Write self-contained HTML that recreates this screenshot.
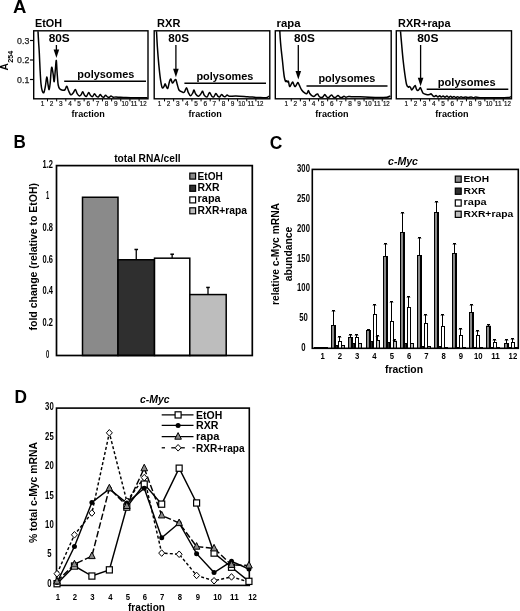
<!DOCTYPE html>
<html><head><meta charset="utf-8"><title>figure</title>
<style>html,body{margin:0;padding:0;background:#fff;} svg{display:block;will-change:transform;}</style>
</head><body>
<svg width="520" height="611" viewBox="0 0 520 611" font-family='"Liberation Sans", sans-serif'>
<text x="13.00" y="12.80" font-size="17.6" font-weight="bold" fill="#000" textLength="13.4" lengthAdjust="spacingAndGlyphs" >A</text>
<rect x="33.70" y="30.80" width="114.30" height="68.00" fill="none" stroke="#000" stroke-width="1.4" />
<text x="35.00" y="26.50" font-size="10.4" font-weight="bold" fill="#000" textLength="27.1" lengthAdjust="spacingAndGlyphs" >EtOH</text>
<rect x="154.20" y="30.80" width="115.60" height="68.00" fill="none" stroke="#000" stroke-width="1.4" />
<text x="157.10" y="26.50" font-size="10.4" font-weight="bold" fill="#000" textLength="23.3" lengthAdjust="spacingAndGlyphs" >RXR</text>
<rect x="275.30" y="30.80" width="115.90" height="68.00" fill="none" stroke="#000" stroke-width="1.4" />
<text x="276.60" y="26.50" font-size="10.4" font-weight="bold" fill="#000" textLength="24.0" lengthAdjust="spacingAndGlyphs" >rapa</text>
<rect x="396.30" y="30.80" width="115.20" height="68.00" fill="none" stroke="#000" stroke-width="1.4" />
<text x="398.10" y="26.50" font-size="10.4" font-weight="bold" fill="#000" textLength="52.4" lengthAdjust="spacingAndGlyphs" >RXR+rapa</text>
<line x1="30.00" y1="40.50" x2="33.70" y2="40.50" stroke="#000" stroke-width="1.2" />
<text x="29.30" y="43.50" font-size="8.6" font-weight="normal" fill="#222" text-anchor="end" textLength="12.2" lengthAdjust="spacingAndGlyphs" stroke="#222" stroke-width="0.25">0.3</text>
<line x1="30.00" y1="60.00" x2="33.70" y2="60.00" stroke="#000" stroke-width="1.2" />
<text x="29.30" y="63.00" font-size="8.6" font-weight="normal" fill="#222" text-anchor="end" textLength="12.2" lengthAdjust="spacingAndGlyphs" stroke="#222" stroke-width="0.25">0.2</text>
<line x1="30.00" y1="79.50" x2="33.70" y2="79.50" stroke="#000" stroke-width="1.2" />
<text x="29.30" y="82.50" font-size="8.6" font-weight="normal" fill="#222" text-anchor="end" textLength="12.2" lengthAdjust="spacingAndGlyphs" stroke="#222" stroke-width="0.25">0.1</text>
<text x="8.50" y="70.40" font-size="10.0" font-weight="bold" fill="#000" textLength="7.4" lengthAdjust="spacingAndGlyphs" transform="rotate(-90 8.50 70.40)" >A</text>
<text x="12.60" y="62.80" font-size="6.4" font-weight="bold" fill="#000" textLength="12.0" lengthAdjust="spacingAndGlyphs" transform="rotate(-90 12.60 62.80)" >254</text>
<path d="M38.00,31.20 C38.10,33.00 38.38,38.38 38.60,42.00 C38.82,45.62 39.05,48.22 39.30,52.90 C39.55,57.58 39.82,64.93 40.10,70.10 C40.38,75.27 40.65,80.45 41.00,83.90 C41.35,87.35 41.72,89.37 42.20,90.80 C42.68,92.23 43.37,93.27 43.90,92.50 C44.43,91.73 44.92,88.78 45.40,86.20 C45.88,83.62 46.35,77.20 46.80,77.00 C47.25,76.80 47.72,82.90 48.10,85.00 C48.48,87.10 48.75,89.97 49.10,89.60 C49.45,89.23 49.87,85.85 50.20,82.80 C50.53,79.75 50.82,73.88 51.10,71.30 C51.38,68.72 51.57,66.92 51.90,67.30 C52.23,67.68 52.72,71.22 53.10,73.60 C53.48,75.98 53.82,82.37 54.20,81.60 C54.58,80.83 55.05,72.53 55.40,69.00 C55.75,65.47 56.02,59.83 56.30,60.40 C56.58,60.97 56.78,68.30 57.10,72.40 C57.42,76.50 57.72,82.22 58.20,85.00 C58.68,87.78 59.23,88.23 60.00,89.10 C60.77,89.97 61.95,90.12 62.80,90.20 C63.65,90.28 64.43,90.27 65.10,89.60 C65.77,88.93 66.22,86.00 66.80,86.20 C67.38,86.40 67.93,89.37 68.60,90.80 C69.27,92.23 70.05,94.42 70.80,94.80 C71.55,95.18 72.33,93.97 73.10,93.10 C73.87,92.23 74.72,89.52 75.40,89.60 C76.08,89.68 76.53,92.55 77.20,93.60 C77.87,94.65 78.73,95.73 79.40,95.90 C80.07,96.07 80.65,95.28 81.20,94.60 C81.75,93.92 82.15,91.70 82.70,91.80 C83.25,91.90 83.87,94.43 84.50,95.20 C85.13,95.97 85.80,96.83 86.50,96.40 C87.20,95.97 88.02,92.73 88.70,92.60 C89.38,92.47 89.97,94.93 90.60,95.60 C91.23,96.27 91.85,96.90 92.50,96.60 C93.15,96.30 93.85,93.87 94.50,93.80 C95.15,93.73 95.77,95.67 96.40,96.20 C97.03,96.73 97.67,97.27 98.30,97.00 C98.93,96.73 99.58,94.67 100.20,94.60 C100.82,94.53 101.40,96.17 102.00,96.60 C102.60,97.03 103.20,97.42 103.80,97.20 C104.40,96.98 105.00,95.35 105.60,95.30 C106.20,95.25 106.80,96.55 107.40,96.90 C108.00,97.25 108.60,97.55 109.20,97.40 C109.80,97.25 110.37,96.03 111.00,96.00 C111.63,95.97 112.17,97.03 113.00,97.20 C113.83,97.37 114.83,96.98 116.00,97.00 C117.17,97.02 118.33,97.20 120.00,97.30 C121.67,97.40 123.50,97.52 126.00,97.60 C128.50,97.68 131.42,97.77 135.00,97.80 C138.58,97.83 145.42,97.80 147.50,97.80" fill="none" stroke="#000" stroke-width="1.5" stroke-linejoin="round"/>
<path d="M156.50,31.20 C156.65,33.88 157.02,41.73 157.40,47.30 C157.78,52.87 158.28,59.22 158.80,64.60 C159.32,69.98 159.93,75.75 160.50,79.60 C161.07,83.45 161.62,86.55 162.20,87.70 C162.78,88.85 163.52,87.17 164.00,86.50 C164.48,85.83 164.72,83.70 165.10,83.70 C165.48,83.70 165.85,85.73 166.30,86.50 C166.75,87.27 167.28,89.07 167.80,88.30 C168.32,87.53 168.88,83.45 169.40,81.90 C169.92,80.35 170.40,78.80 170.90,79.00 C171.40,79.20 171.83,82.80 172.40,83.10 C172.97,83.40 173.73,81.38 174.30,80.80 C174.87,80.22 175.32,79.03 175.80,79.60 C176.28,80.17 176.67,82.47 177.20,84.20 C177.73,85.93 178.23,88.75 179.00,90.00 C179.77,91.25 180.93,91.32 181.80,91.70 C182.67,92.08 183.42,92.97 184.20,92.30 C184.98,91.63 185.83,87.70 186.50,87.70 C187.17,87.70 187.53,90.95 188.20,92.30 C188.87,93.65 189.73,95.70 190.50,95.80 C191.27,95.90 192.22,93.87 192.80,92.90 C193.38,91.93 193.52,89.82 194.00,90.00 C194.48,90.18 194.93,92.95 195.70,94.00 C196.47,95.05 197.63,96.48 198.60,96.30 C199.57,96.12 200.83,93.75 201.50,92.90 C202.17,92.05 202.13,90.82 202.60,91.20 C203.07,91.58 203.53,94.25 204.30,95.20 C205.07,96.15 206.33,97.35 207.20,96.90 C208.07,96.45 208.73,92.62 209.50,92.50 C210.27,92.38 211.08,95.48 211.80,96.20 C212.52,96.92 213.12,97.23 213.80,96.80 C214.48,96.37 215.20,93.68 215.90,93.60 C216.60,93.52 217.35,95.77 218.00,96.30 C218.65,96.83 219.20,97.12 219.80,96.80 C220.40,96.48 220.97,94.47 221.60,94.40 C222.23,94.33 222.98,96.03 223.60,96.40 C224.22,96.77 224.70,96.83 225.30,96.60 C225.90,96.37 226.50,95.05 227.20,95.00 C227.90,94.95 228.03,96.13 229.50,96.30 C230.97,96.47 232.98,95.93 236.00,96.00 C239.02,96.07 243.98,96.47 247.60,96.70 C251.22,96.93 254.63,97.22 257.70,97.40 C260.77,97.58 264.12,98.00 266.00,97.80 C267.88,97.60 268.50,96.47 269.00,96.20" fill="none" stroke="#000" stroke-width="1.5" stroke-linejoin="round"/>
<path d="M279.80,30.90 C279.87,32.08 280.02,35.40 280.20,38.00 C280.38,40.60 280.65,43.83 280.90,46.50 C281.15,49.17 281.42,51.42 281.70,54.00 C281.98,56.58 282.32,59.33 282.60,62.00 C282.88,64.67 283.12,67.50 283.40,70.00 C283.68,72.50 283.95,75.12 284.30,77.00 C284.65,78.88 285.13,80.67 285.50,81.30 C285.87,81.93 286.20,80.70 286.50,80.80 C286.80,80.90 286.98,81.82 287.30,81.90 C287.62,81.98 288.02,80.53 288.40,81.30 C288.78,82.07 289.12,86.02 289.60,86.50 C290.08,86.98 290.78,84.97 291.30,84.20 C291.82,83.43 292.22,81.70 292.70,81.90 C293.18,82.10 293.77,84.63 294.20,85.40 C294.63,86.17 294.82,86.78 295.30,86.50 C295.78,86.22 296.65,84.37 297.10,83.70 C297.55,83.03 297.62,82.22 298.00,82.50 C298.38,82.78 298.78,84.15 299.40,85.40 C300.02,86.65 300.83,88.75 301.70,90.00 C302.57,91.25 303.73,92.32 304.60,92.90 C305.47,93.48 306.27,93.88 306.90,93.50 C307.53,93.12 307.92,90.60 308.40,90.60 C308.88,90.60 309.18,92.63 309.80,93.50 C310.42,94.37 311.33,95.33 312.10,95.80 C312.87,96.27 313.73,96.50 314.40,96.30 C315.07,96.10 315.57,94.98 316.10,94.60 C316.63,94.22 317.02,93.62 317.60,94.00 C318.18,94.38 318.78,96.35 319.60,96.90 C320.42,97.45 321.63,97.68 322.50,97.30 C323.37,96.92 324.08,94.65 324.80,94.60 C325.52,94.55 326.13,96.53 326.80,97.00 C327.47,97.47 328.03,97.73 328.80,97.40 C329.57,97.07 330.62,95.05 331.40,95.00 C332.18,94.95 332.82,96.68 333.50,97.10 C334.18,97.52 334.75,97.75 335.50,97.50 C336.25,97.25 337.25,95.65 338.00,95.60 C338.75,95.55 339.33,96.88 340.00,97.20 C340.67,97.52 341.33,97.67 342.00,97.50 C342.67,97.33 343.33,96.23 344.00,96.20 C344.67,96.17 345.25,97.25 346.00,97.30 C346.75,97.35 347.50,96.58 348.50,96.50 C349.50,96.42 350.08,96.75 352.00,96.80 C353.92,96.85 357.00,96.73 360.00,96.80 C363.00,96.87 366.67,97.10 370.00,97.20 C373.33,97.30 377.17,97.38 380.00,97.40 C382.83,97.42 385.27,97.53 387.00,97.30 C388.73,97.07 389.83,96.22 390.40,96.00" fill="none" stroke="#000" stroke-width="1.5" stroke-linejoin="round"/>
<path d="M400.50,31.20 C400.70,33.50 401.27,40.20 401.70,45.00 C402.13,49.80 402.58,55.20 403.10,60.00 C403.62,64.80 404.23,69.77 404.80,73.80 C405.37,77.83 405.92,81.98 406.50,84.20 C407.08,86.42 407.82,86.72 408.30,87.10 C408.78,87.48 409.02,86.40 409.40,86.50 C409.78,86.60 410.22,87.12 410.60,87.70 C410.98,88.28 411.22,90.00 411.70,90.00 C412.18,90.00 412.92,88.47 413.50,87.70 C414.08,86.93 414.73,85.22 415.20,85.40 C415.67,85.58 415.87,87.93 416.30,88.80 C416.73,89.67 417.27,90.60 417.80,90.60 C418.33,90.60 419.07,89.28 419.50,88.80 C419.93,88.32 420.02,87.40 420.40,87.70 C420.78,88.00 421.35,89.68 421.80,90.60 C422.25,91.52 422.36,92.57 423.10,93.20 C423.84,93.83 425.20,94.17 426.25,94.40 C427.30,94.63 428.61,94.70 429.40,94.60 C430.19,94.50 430.45,93.63 431.00,93.80 C431.55,93.97 432.15,95.13 432.70,95.60 C433.25,96.07 433.75,96.60 434.30,96.60 C434.85,96.60 435.40,95.53 436.00,95.60 C436.60,95.67 437.27,96.97 437.90,97.00 C438.52,97.03 439.17,95.78 439.75,95.80 C440.33,95.82 440.84,97.07 441.40,97.10 C441.96,97.13 442.50,95.98 443.10,96.00 C443.70,96.02 444.37,97.18 445.00,97.20 C445.63,97.22 446.28,96.08 446.90,96.10 C447.52,96.12 448.08,97.27 448.70,97.30 C449.32,97.33 450.00,96.28 450.60,96.30 C451.20,96.32 451.73,97.37 452.30,97.40 C452.87,97.43 453.42,96.48 454.00,96.50 C454.58,96.52 455.22,97.47 455.80,97.50 C456.38,97.53 456.90,96.70 457.50,96.70 C458.10,96.70 458.80,97.48 459.40,97.50 C460.00,97.52 460.50,96.78 461.10,96.80 C461.70,96.82 462.23,97.58 463.00,97.60 C463.77,97.62 464.87,96.90 465.70,96.90 C466.53,96.90 467.08,97.58 468.00,97.60 C468.92,97.62 470.28,96.98 471.20,97.00 C472.12,97.02 472.73,97.68 473.50,97.70 C474.27,97.72 474.72,97.10 475.80,97.10 C476.88,97.10 476.80,97.58 480.00,97.70 C483.20,97.82 490.33,97.82 495.00,97.80 C499.67,97.78 505.33,97.80 508.00,97.60 C510.67,97.40 510.50,96.77 511.00,96.60" fill="none" stroke="#000" stroke-width="1.5" stroke-linejoin="round"/>
<text x="48.70" y="41.80" font-size="10.6" font-weight="bold" fill="#000" textLength="21.1" lengthAdjust="spacingAndGlyphs" >80S</text>
<line x1="56.40" y1="45.00" x2="56.40" y2="52.00" stroke="#000" stroke-width="1.3" />
<path d="M53.60,49.50 L59.20,49.50 L56.40,58.00 Z" fill="#000"/>
<text x="168.30" y="41.80" font-size="10.6" font-weight="bold" fill="#000" textLength="20.8" lengthAdjust="spacingAndGlyphs" >80S</text>
<line x1="175.90" y1="45.00" x2="175.90" y2="71.30" stroke="#000" stroke-width="1.3" />
<path d="M173.10,68.80 L178.70,68.80 L175.90,77.30 Z" fill="#000"/>
<text x="293.90" y="41.80" font-size="10.6" font-weight="bold" fill="#000" textLength="21.0" lengthAdjust="spacingAndGlyphs" >80S</text>
<line x1="298.30" y1="45.00" x2="298.30" y2="73.60" stroke="#000" stroke-width="1.3" />
<path d="M295.50,71.10 L301.10,71.10 L298.30,79.60 Z" fill="#000"/>
<text x="417.20" y="41.80" font-size="10.6" font-weight="bold" fill="#000" textLength="21.400000000000002" lengthAdjust="spacingAndGlyphs" >80S</text>
<line x1="420.60" y1="45.00" x2="420.60" y2="80.30" stroke="#000" stroke-width="1.3" />
<path d="M417.80,77.80 L423.40,77.80 L420.60,86.30 Z" fill="#000"/>
<text x="77.30" y="78.20" font-size="10.7" font-weight="bold" fill="#000" textLength="57.099999999999994" lengthAdjust="spacingAndGlyphs" >polysomes</text>
<line x1="64.20" y1="81.30" x2="146.00" y2="81.30" stroke="#000" stroke-width="1.5" />
<text x="196.40" y="80.20" font-size="10.7" font-weight="bold" fill="#000" textLength="57.0" lengthAdjust="spacingAndGlyphs" >polysomes</text>
<line x1="184.40" y1="83.30" x2="266.00" y2="83.30" stroke="#000" stroke-width="1.5" />
<text x="318.40" y="82.00" font-size="10.7" font-weight="bold" fill="#000" textLength="57.0" lengthAdjust="spacingAndGlyphs" >polysomes</text>
<line x1="306.50" y1="86.00" x2="387.50" y2="86.00" stroke="#000" stroke-width="1.5" />
<text x="437.80" y="86.00" font-size="10.7" font-weight="bold" fill="#000" textLength="57.9" lengthAdjust="spacingAndGlyphs" >polysomes</text>
<line x1="426.70" y1="89.30" x2="508.30" y2="89.30" stroke="#000" stroke-width="1.5" />
<text x="42.50" y="105.60" font-size="7.0" font-weight="normal" fill="#111" text-anchor="middle" textLength="3.6" lengthAdjust="spacingAndGlyphs" stroke="#111" stroke-width="0.2">1</text>
<line x1="47.50" y1="98.80" x2="47.50" y2="101.40" stroke="#000" stroke-width="1.0" />
<text x="51.66" y="105.60" font-size="7.0" font-weight="normal" fill="#111" text-anchor="middle" textLength="3.6" lengthAdjust="spacingAndGlyphs" stroke="#111" stroke-width="0.2">2</text>
<line x1="56.66" y1="98.80" x2="56.66" y2="101.40" stroke="#000" stroke-width="1.0" />
<text x="60.82" y="105.60" font-size="7.0" font-weight="normal" fill="#111" text-anchor="middle" textLength="3.6" lengthAdjust="spacingAndGlyphs" stroke="#111" stroke-width="0.2">3</text>
<line x1="65.82" y1="98.80" x2="65.82" y2="101.40" stroke="#000" stroke-width="1.0" />
<text x="69.98" y="105.60" font-size="7.0" font-weight="normal" fill="#111" text-anchor="middle" textLength="3.6" lengthAdjust="spacingAndGlyphs" stroke="#111" stroke-width="0.2">4</text>
<line x1="74.98" y1="98.80" x2="74.98" y2="101.40" stroke="#000" stroke-width="1.0" />
<text x="79.14" y="105.60" font-size="7.0" font-weight="normal" fill="#111" text-anchor="middle" textLength="3.6" lengthAdjust="spacingAndGlyphs" stroke="#111" stroke-width="0.2">5</text>
<line x1="84.14" y1="98.80" x2="84.14" y2="101.40" stroke="#000" stroke-width="1.0" />
<text x="88.30" y="105.60" font-size="7.0" font-weight="normal" fill="#111" text-anchor="middle" textLength="3.6" lengthAdjust="spacingAndGlyphs" stroke="#111" stroke-width="0.2">6</text>
<line x1="93.30" y1="98.80" x2="93.30" y2="101.40" stroke="#000" stroke-width="1.0" />
<text x="97.46" y="105.60" font-size="7.0" font-weight="normal" fill="#111" text-anchor="middle" textLength="3.6" lengthAdjust="spacingAndGlyphs" stroke="#111" stroke-width="0.2">7</text>
<line x1="102.46" y1="98.80" x2="102.46" y2="101.40" stroke="#000" stroke-width="1.0" />
<text x="106.62" y="105.60" font-size="7.0" font-weight="normal" fill="#111" text-anchor="middle" textLength="3.6" lengthAdjust="spacingAndGlyphs" stroke="#111" stroke-width="0.2">8</text>
<line x1="111.62" y1="98.80" x2="111.62" y2="101.40" stroke="#000" stroke-width="1.0" />
<text x="115.78" y="105.60" font-size="7.0" font-weight="normal" fill="#111" text-anchor="middle" textLength="3.6" lengthAdjust="spacingAndGlyphs" stroke="#111" stroke-width="0.2">9</text>
<line x1="120.78" y1="98.80" x2="120.78" y2="101.40" stroke="#000" stroke-width="1.0" />
<text x="124.94" y="105.60" font-size="7.0" font-weight="normal" fill="#111" text-anchor="middle" textLength="6.8" lengthAdjust="spacingAndGlyphs" stroke="#111" stroke-width="0.2">10</text>
<line x1="129.94" y1="98.80" x2="129.94" y2="101.40" stroke="#000" stroke-width="1.0" />
<text x="134.10" y="105.60" font-size="7.0" font-weight="normal" fill="#111" text-anchor="middle" textLength="6.8" lengthAdjust="spacingAndGlyphs" stroke="#111" stroke-width="0.2">11</text>
<line x1="139.10" y1="98.80" x2="139.10" y2="101.40" stroke="#000" stroke-width="1.0" />
<text x="143.26" y="105.60" font-size="7.0" font-weight="normal" fill="#111" text-anchor="middle" textLength="6.8" lengthAdjust="spacingAndGlyphs" stroke="#111" stroke-width="0.2">12</text>
<text x="88.20" y="116.80" font-size="9.3" font-weight="bold" fill="#000" text-anchor="middle" textLength="33.2" lengthAdjust="spacingAndGlyphs" >fraction</text>
<text x="159.50" y="105.60" font-size="7.0" font-weight="normal" fill="#111" text-anchor="middle" textLength="3.6" lengthAdjust="spacingAndGlyphs" stroke="#111" stroke-width="0.2">1</text>
<line x1="164.50" y1="98.80" x2="164.50" y2="101.40" stroke="#000" stroke-width="1.0" />
<text x="168.64" y="105.60" font-size="7.0" font-weight="normal" fill="#111" text-anchor="middle" textLength="3.6" lengthAdjust="spacingAndGlyphs" stroke="#111" stroke-width="0.2">2</text>
<line x1="173.64" y1="98.80" x2="173.64" y2="101.40" stroke="#000" stroke-width="1.0" />
<text x="177.78" y="105.60" font-size="7.0" font-weight="normal" fill="#111" text-anchor="middle" textLength="3.6" lengthAdjust="spacingAndGlyphs" stroke="#111" stroke-width="0.2">3</text>
<line x1="182.78" y1="98.80" x2="182.78" y2="101.40" stroke="#000" stroke-width="1.0" />
<text x="186.92" y="105.60" font-size="7.0" font-weight="normal" fill="#111" text-anchor="middle" textLength="3.6" lengthAdjust="spacingAndGlyphs" stroke="#111" stroke-width="0.2">4</text>
<line x1="191.92" y1="98.80" x2="191.92" y2="101.40" stroke="#000" stroke-width="1.0" />
<text x="196.06" y="105.60" font-size="7.0" font-weight="normal" fill="#111" text-anchor="middle" textLength="3.6" lengthAdjust="spacingAndGlyphs" stroke="#111" stroke-width="0.2">5</text>
<line x1="201.06" y1="98.80" x2="201.06" y2="101.40" stroke="#000" stroke-width="1.0" />
<text x="205.20" y="105.60" font-size="7.0" font-weight="normal" fill="#111" text-anchor="middle" textLength="3.6" lengthAdjust="spacingAndGlyphs" stroke="#111" stroke-width="0.2">6</text>
<line x1="210.20" y1="98.80" x2="210.20" y2="101.40" stroke="#000" stroke-width="1.0" />
<text x="214.34" y="105.60" font-size="7.0" font-weight="normal" fill="#111" text-anchor="middle" textLength="3.6" lengthAdjust="spacingAndGlyphs" stroke="#111" stroke-width="0.2">7</text>
<line x1="219.34" y1="98.80" x2="219.34" y2="101.40" stroke="#000" stroke-width="1.0" />
<text x="223.48" y="105.60" font-size="7.0" font-weight="normal" fill="#111" text-anchor="middle" textLength="3.6" lengthAdjust="spacingAndGlyphs" stroke="#111" stroke-width="0.2">8</text>
<line x1="228.48" y1="98.80" x2="228.48" y2="101.40" stroke="#000" stroke-width="1.0" />
<text x="232.62" y="105.60" font-size="7.0" font-weight="normal" fill="#111" text-anchor="middle" textLength="3.6" lengthAdjust="spacingAndGlyphs" stroke="#111" stroke-width="0.2">9</text>
<line x1="237.62" y1="98.80" x2="237.62" y2="101.40" stroke="#000" stroke-width="1.0" />
<text x="241.76" y="105.60" font-size="7.0" font-weight="normal" fill="#111" text-anchor="middle" textLength="6.8" lengthAdjust="spacingAndGlyphs" stroke="#111" stroke-width="0.2">10</text>
<line x1="246.76" y1="98.80" x2="246.76" y2="101.40" stroke="#000" stroke-width="1.0" />
<text x="250.90" y="105.60" font-size="7.0" font-weight="normal" fill="#111" text-anchor="middle" textLength="6.8" lengthAdjust="spacingAndGlyphs" stroke="#111" stroke-width="0.2">11</text>
<line x1="255.90" y1="98.80" x2="255.90" y2="101.40" stroke="#000" stroke-width="1.0" />
<text x="260.04" y="105.60" font-size="7.0" font-weight="normal" fill="#111" text-anchor="middle" textLength="6.8" lengthAdjust="spacingAndGlyphs" stroke="#111" stroke-width="0.2">12</text>
<text x="205.20" y="116.80" font-size="9.3" font-weight="bold" fill="#000" text-anchor="middle" textLength="33.2" lengthAdjust="spacingAndGlyphs" >fraction</text>
<text x="286.25" y="105.60" font-size="7.0" font-weight="normal" fill="#111" text-anchor="middle" textLength="3.6" lengthAdjust="spacingAndGlyphs" stroke="#111" stroke-width="0.2">1</text>
<line x1="291.25" y1="98.80" x2="291.25" y2="101.40" stroke="#000" stroke-width="1.0" />
<text x="295.35" y="105.60" font-size="7.0" font-weight="normal" fill="#111" text-anchor="middle" textLength="3.6" lengthAdjust="spacingAndGlyphs" stroke="#111" stroke-width="0.2">2</text>
<line x1="300.35" y1="98.80" x2="300.35" y2="101.40" stroke="#000" stroke-width="1.0" />
<text x="304.45" y="105.60" font-size="7.0" font-weight="normal" fill="#111" text-anchor="middle" textLength="3.6" lengthAdjust="spacingAndGlyphs" stroke="#111" stroke-width="0.2">3</text>
<line x1="309.45" y1="98.80" x2="309.45" y2="101.40" stroke="#000" stroke-width="1.0" />
<text x="313.55" y="105.60" font-size="7.0" font-weight="normal" fill="#111" text-anchor="middle" textLength="3.6" lengthAdjust="spacingAndGlyphs" stroke="#111" stroke-width="0.2">4</text>
<line x1="318.55" y1="98.80" x2="318.55" y2="101.40" stroke="#000" stroke-width="1.0" />
<text x="322.65" y="105.60" font-size="7.0" font-weight="normal" fill="#111" text-anchor="middle" textLength="3.6" lengthAdjust="spacingAndGlyphs" stroke="#111" stroke-width="0.2">5</text>
<line x1="327.65" y1="98.80" x2="327.65" y2="101.40" stroke="#000" stroke-width="1.0" />
<text x="331.75" y="105.60" font-size="7.0" font-weight="normal" fill="#111" text-anchor="middle" textLength="3.6" lengthAdjust="spacingAndGlyphs" stroke="#111" stroke-width="0.2">6</text>
<line x1="336.75" y1="98.80" x2="336.75" y2="101.40" stroke="#000" stroke-width="1.0" />
<text x="340.85" y="105.60" font-size="7.0" font-weight="normal" fill="#111" text-anchor="middle" textLength="3.6" lengthAdjust="spacingAndGlyphs" stroke="#111" stroke-width="0.2">7</text>
<line x1="345.85" y1="98.80" x2="345.85" y2="101.40" stroke="#000" stroke-width="1.0" />
<text x="349.95" y="105.60" font-size="7.0" font-weight="normal" fill="#111" text-anchor="middle" textLength="3.6" lengthAdjust="spacingAndGlyphs" stroke="#111" stroke-width="0.2">8</text>
<line x1="354.95" y1="98.80" x2="354.95" y2="101.40" stroke="#000" stroke-width="1.0" />
<text x="359.05" y="105.60" font-size="7.0" font-weight="normal" fill="#111" text-anchor="middle" textLength="3.6" lengthAdjust="spacingAndGlyphs" stroke="#111" stroke-width="0.2">9</text>
<line x1="364.05" y1="98.80" x2="364.05" y2="101.40" stroke="#000" stroke-width="1.0" />
<text x="368.15" y="105.60" font-size="7.0" font-weight="normal" fill="#111" text-anchor="middle" textLength="6.8" lengthAdjust="spacingAndGlyphs" stroke="#111" stroke-width="0.2">10</text>
<line x1="373.15" y1="98.80" x2="373.15" y2="101.40" stroke="#000" stroke-width="1.0" />
<text x="377.25" y="105.60" font-size="7.0" font-weight="normal" fill="#111" text-anchor="middle" textLength="6.8" lengthAdjust="spacingAndGlyphs" stroke="#111" stroke-width="0.2">11</text>
<line x1="382.25" y1="98.80" x2="382.25" y2="101.40" stroke="#000" stroke-width="1.0" />
<text x="386.35" y="105.60" font-size="7.0" font-weight="normal" fill="#111" text-anchor="middle" textLength="6.8" lengthAdjust="spacingAndGlyphs" stroke="#111" stroke-width="0.2">12</text>
<text x="331.95" y="116.80" font-size="9.3" font-weight="bold" fill="#000" text-anchor="middle" textLength="33.2" lengthAdjust="spacingAndGlyphs" >fraction</text>
<text x="406.25" y="105.60" font-size="7.0" font-weight="normal" fill="#111" text-anchor="middle" textLength="3.6" lengthAdjust="spacingAndGlyphs" stroke="#111" stroke-width="0.2">1</text>
<line x1="411.25" y1="98.80" x2="411.25" y2="101.40" stroke="#000" stroke-width="1.0" />
<text x="415.45" y="105.60" font-size="7.0" font-weight="normal" fill="#111" text-anchor="middle" textLength="3.6" lengthAdjust="spacingAndGlyphs" stroke="#111" stroke-width="0.2">2</text>
<line x1="420.45" y1="98.80" x2="420.45" y2="101.40" stroke="#000" stroke-width="1.0" />
<text x="424.65" y="105.60" font-size="7.0" font-weight="normal" fill="#111" text-anchor="middle" textLength="3.6" lengthAdjust="spacingAndGlyphs" stroke="#111" stroke-width="0.2">3</text>
<line x1="429.65" y1="98.80" x2="429.65" y2="101.40" stroke="#000" stroke-width="1.0" />
<text x="433.85" y="105.60" font-size="7.0" font-weight="normal" fill="#111" text-anchor="middle" textLength="3.6" lengthAdjust="spacingAndGlyphs" stroke="#111" stroke-width="0.2">4</text>
<line x1="438.85" y1="98.80" x2="438.85" y2="101.40" stroke="#000" stroke-width="1.0" />
<text x="443.05" y="105.60" font-size="7.0" font-weight="normal" fill="#111" text-anchor="middle" textLength="3.6" lengthAdjust="spacingAndGlyphs" stroke="#111" stroke-width="0.2">5</text>
<line x1="448.05" y1="98.80" x2="448.05" y2="101.40" stroke="#000" stroke-width="1.0" />
<text x="452.25" y="105.60" font-size="7.0" font-weight="normal" fill="#111" text-anchor="middle" textLength="3.6" lengthAdjust="spacingAndGlyphs" stroke="#111" stroke-width="0.2">6</text>
<line x1="457.25" y1="98.80" x2="457.25" y2="101.40" stroke="#000" stroke-width="1.0" />
<text x="461.45" y="105.60" font-size="7.0" font-weight="normal" fill="#111" text-anchor="middle" textLength="3.6" lengthAdjust="spacingAndGlyphs" stroke="#111" stroke-width="0.2">7</text>
<line x1="466.45" y1="98.80" x2="466.45" y2="101.40" stroke="#000" stroke-width="1.0" />
<text x="470.65" y="105.60" font-size="7.0" font-weight="normal" fill="#111" text-anchor="middle" textLength="3.6" lengthAdjust="spacingAndGlyphs" stroke="#111" stroke-width="0.2">8</text>
<line x1="475.65" y1="98.80" x2="475.65" y2="101.40" stroke="#000" stroke-width="1.0" />
<text x="479.85" y="105.60" font-size="7.0" font-weight="normal" fill="#111" text-anchor="middle" textLength="3.6" lengthAdjust="spacingAndGlyphs" stroke="#111" stroke-width="0.2">9</text>
<line x1="484.85" y1="98.80" x2="484.85" y2="101.40" stroke="#000" stroke-width="1.0" />
<text x="489.05" y="105.60" font-size="7.0" font-weight="normal" fill="#111" text-anchor="middle" textLength="6.8" lengthAdjust="spacingAndGlyphs" stroke="#111" stroke-width="0.2">10</text>
<line x1="494.05" y1="98.80" x2="494.05" y2="101.40" stroke="#000" stroke-width="1.0" />
<text x="498.25" y="105.60" font-size="7.0" font-weight="normal" fill="#111" text-anchor="middle" textLength="6.8" lengthAdjust="spacingAndGlyphs" stroke="#111" stroke-width="0.2">11</text>
<line x1="503.25" y1="98.80" x2="503.25" y2="101.40" stroke="#000" stroke-width="1.0" />
<text x="507.45" y="105.60" font-size="7.0" font-weight="normal" fill="#111" text-anchor="middle" textLength="6.8" lengthAdjust="spacingAndGlyphs" stroke="#111" stroke-width="0.2">12</text>
<text x="451.95" y="116.80" font-size="9.3" font-weight="bold" fill="#000" text-anchor="middle" textLength="33.2" lengthAdjust="spacingAndGlyphs" >fraction</text>
<text x="13.40" y="148.40" font-size="17.8" font-weight="bold" fill="#000" textLength="12.3" lengthAdjust="spacingAndGlyphs" >B</text>
<text x="114.20" y="161.90" font-size="11.0" font-weight="bold" fill="#000" textLength="66.4" lengthAdjust="spacingAndGlyphs" >total RNA/cell</text>
<text x="47.70" y="167.80" font-size="10.2" font-weight="bold" fill="#000" text-anchor="middle" textLength="10.4" lengthAdjust="spacingAndGlyphs" >1.2</text>
<text x="47.70" y="199.45" font-size="10.2" font-weight="bold" fill="#000" text-anchor="middle" textLength="3.2" lengthAdjust="spacingAndGlyphs" >1</text>
<text x="47.70" y="231.10" font-size="10.2" font-weight="bold" fill="#000" text-anchor="middle" textLength="10.4" lengthAdjust="spacingAndGlyphs" >0.8</text>
<text x="47.70" y="262.75" font-size="10.2" font-weight="bold" fill="#000" text-anchor="middle" textLength="10.4" lengthAdjust="spacingAndGlyphs" >0.6</text>
<text x="47.70" y="294.40" font-size="10.2" font-weight="bold" fill="#000" text-anchor="middle" textLength="10.4" lengthAdjust="spacingAndGlyphs" >0.4</text>
<text x="47.70" y="326.05" font-size="10.2" font-weight="bold" fill="#000" text-anchor="middle" textLength="10.4" lengthAdjust="spacingAndGlyphs" >0.2</text>
<text x="47.70" y="357.70" font-size="10.2" font-weight="bold" fill="#000" text-anchor="middle" textLength="3.2" lengthAdjust="spacingAndGlyphs" >0</text>
<rect x="82.50" y="197.25" width="35.50" height="158.25" fill="#8a8a8a" stroke="#000" stroke-width="1.5" />
<line x1="136.25" y1="259.76" x2="136.25" y2="249.47" stroke="#000" stroke-width="1.3" />
<line x1="134.45" y1="249.47" x2="138.05" y2="249.47" stroke="#000" stroke-width="1.5" />
<rect x="118.00" y="259.76" width="36.50" height="95.74" fill="#2f2f2f" stroke="#000" stroke-width="1.5" />
<line x1="172.15" y1="258.18" x2="172.15" y2="254.22" stroke="#000" stroke-width="1.3" />
<line x1="170.35" y1="254.22" x2="173.95" y2="254.22" stroke="#000" stroke-width="1.5" />
<rect x="154.50" y="258.18" width="35.30" height="97.32" fill="#ffffff" stroke="#000" stroke-width="1.5" />
<line x1="208.00" y1="294.57" x2="208.00" y2="287.45" stroke="#000" stroke-width="1.3" />
<line x1="206.20" y1="287.45" x2="209.80" y2="287.45" stroke="#000" stroke-width="1.5" />
<rect x="189.80" y="294.57" width="36.40" height="60.93" fill="#bdbdbd" stroke="#000" stroke-width="1.5" />
<rect x="56.50" y="165.60" width="195.80" height="189.90" fill="none" stroke="#000" stroke-width="1.7" />
<rect x="189.80" y="173.10" width="5.80" height="6.00" fill="#8a8a8a" stroke="#000" stroke-width="1.2" />
<text x="197.60" y="179.70" font-size="10.4" font-weight="bold" fill="#000" textLength="25.2" lengthAdjust="spacingAndGlyphs" >EtOH</text>
<rect x="189.80" y="185.30" width="5.80" height="6.00" fill="#2f2f2f" stroke="#000" stroke-width="1.2" />
<text x="197.60" y="191.00" font-size="10.4" font-weight="bold" fill="#000" textLength="22.0" lengthAdjust="spacingAndGlyphs" >RXR</text>
<rect x="189.80" y="196.90" width="5.80" height="6.00" fill="#ffffff" stroke="#000" stroke-width="1.2" />
<text x="197.60" y="202.40" font-size="10.4" font-weight="bold" fill="#000" textLength="23.0" lengthAdjust="spacingAndGlyphs" >rapa</text>
<rect x="189.80" y="207.80" width="5.80" height="6.00" fill="#bdbdbd" stroke="#000" stroke-width="1.2" />
<text x="197.60" y="213.70" font-size="10.4" font-weight="bold" fill="#000" textLength="49.5" lengthAdjust="spacingAndGlyphs" >RXR+rapa</text>
<text x="37.00" y="256.70" font-size="10.4" font-weight="bold" fill="#000" text-anchor="middle" textLength="147.5" lengthAdjust="spacingAndGlyphs" transform="rotate(-90 37.00 256.70)" >fold change (relative to EtOH)</text>
<text x="269.80" y="148.80" font-size="17.8" font-weight="bold" fill="#000" textLength="12.6" lengthAdjust="spacingAndGlyphs" >C</text>
<text x="388.00" y="164.80" font-size="10.4" font-weight="bold" fill="#000" textLength="30.0" lengthAdjust="spacingAndGlyphs" font-style="italic" >c-Myc</text>
<text x="303.50" y="172.10" font-size="10.2" font-weight="bold" fill="#000" text-anchor="middle" textLength="12.8" lengthAdjust="spacingAndGlyphs" >300</text>
<text x="303.50" y="201.92" font-size="10.2" font-weight="bold" fill="#000" text-anchor="middle" textLength="12.8" lengthAdjust="spacingAndGlyphs" >250</text>
<text x="303.50" y="231.73" font-size="10.2" font-weight="bold" fill="#000" text-anchor="middle" textLength="12.8" lengthAdjust="spacingAndGlyphs" >200</text>
<text x="303.50" y="261.55" font-size="10.2" font-weight="bold" fill="#000" text-anchor="middle" textLength="12.8" lengthAdjust="spacingAndGlyphs" >150</text>
<text x="303.50" y="291.37" font-size="10.2" font-weight="bold" fill="#000" text-anchor="middle" textLength="12.8" lengthAdjust="spacingAndGlyphs" >100</text>
<text x="303.50" y="321.18" font-size="10.2" font-weight="bold" fill="#000" text-anchor="middle" textLength="8.6" lengthAdjust="spacingAndGlyphs" >50</text>
<text x="303.50" y="351.00" font-size="10.2" font-weight="bold" fill="#000" text-anchor="middle" textLength="4.3" lengthAdjust="spacingAndGlyphs" >0</text>
<rect x="314" y="347" width="5" height="1" fill="#000"/>
<rect x="318" y="347" width="3" height="1" fill="#000"/>
<rect x="321" y="347" width="4" height="1" fill="#000"/>
<rect x="324" y="347" width="4" height="1" fill="#000"/>
<rect x="333" y="310" width="1" height="15" fill="#000"/>
<rect x="332" y="310" width="3" height="1" fill="#000"/>
<rect x="331.6" y="311" width="3.8" height="0.8" fill="#000" opacity="0.6"/>
<rect x="331" y="325" width="5" height="23" fill="#000"/>
<rect x="332" y="326" width="2" height="22" fill="#8a8a8a"/>
<rect x="335" y="345" width="3" height="3" fill="#000"/>
<rect x="336" y="346" width="1" height="2" fill="#2f2f2f"/>
<rect x="339" y="336" width="1" height="5" fill="#000"/>
<rect x="338" y="336" width="3" height="1" fill="#000"/>
<rect x="337.6" y="337" width="3.8" height="0.8" fill="#000" opacity="0.6"/>
<rect x="338" y="341" width="4" height="7" fill="#000"/>
<rect x="339" y="342" width="2" height="6" fill="#ffffff"/>
<rect x="341" y="345" width="4" height="3" fill="#000"/>
<rect x="342" y="346" width="2" height="2" fill="#bdbdbd"/>
<rect x="350" y="334" width="1" height="3" fill="#000"/>
<rect x="349" y="334" width="3" height="1" fill="#000"/>
<rect x="348.6" y="335" width="3.8" height="0.8" fill="#000" opacity="0.6"/>
<rect x="348" y="337" width="5" height="11" fill="#000"/>
<rect x="349" y="338" width="2" height="10" fill="#8a8a8a"/>
<rect x="352" y="343" width="3" height="5" fill="#000"/>
<rect x="353" y="344" width="1" height="4" fill="#2f2f2f"/>
<rect x="356" y="334" width="1" height="3" fill="#000"/>
<rect x="355" y="334" width="3" height="1" fill="#000"/>
<rect x="354.6" y="335" width="3.8" height="0.8" fill="#000" opacity="0.6"/>
<rect x="355" y="337" width="4" height="11" fill="#000"/>
<rect x="356" y="338" width="2" height="10" fill="#ffffff"/>
<rect x="358" y="343" width="4" height="5" fill="#000"/>
<rect x="359" y="344" width="2" height="4" fill="#bdbdbd"/>
<rect x="368" y="329" width="1" height="1" fill="#000"/>
<rect x="367" y="329" width="3" height="1" fill="#000"/>
<rect x="366.6" y="330" width="3.8" height="0.8" fill="#000" opacity="0.6"/>
<rect x="366" y="330" width="5" height="18" fill="#000"/>
<rect x="367" y="331" width="2" height="17" fill="#8a8a8a"/>
<rect x="370" y="341" width="3" height="7" fill="#000"/>
<rect x="371" y="342" width="1" height="6" fill="#2f2f2f"/>
<rect x="374" y="304" width="1" height="10" fill="#000"/>
<rect x="373" y="304" width="3" height="1" fill="#000"/>
<rect x="372.6" y="305" width="3.8" height="0.8" fill="#000" opacity="0.6"/>
<rect x="373" y="314" width="4" height="34" fill="#000"/>
<rect x="374" y="315" width="2" height="33" fill="#ffffff"/>
<rect x="377" y="335" width="1" height="5" fill="#000"/>
<rect x="376" y="335" width="3" height="1" fill="#000"/>
<rect x="375.6" y="336" width="3.8" height="0.8" fill="#000" opacity="0.6"/>
<rect x="376" y="340" width="4" height="8" fill="#000"/>
<rect x="377" y="341" width="2" height="7" fill="#bdbdbd"/>
<rect x="385" y="243" width="1" height="13" fill="#000"/>
<rect x="384" y="243" width="3" height="1" fill="#000"/>
<rect x="383.6" y="244" width="3.8" height="0.8" fill="#000" opacity="0.6"/>
<rect x="383" y="256" width="5" height="92" fill="#000"/>
<rect x="384" y="257" width="2" height="91" fill="#8a8a8a"/>
<rect x="387" y="342" width="3" height="6" fill="#000"/>
<rect x="388" y="343" width="1" height="5" fill="#2f2f2f"/>
<rect x="391" y="301" width="1" height="20" fill="#000"/>
<rect x="390" y="301" width="3" height="1" fill="#000"/>
<rect x="389.6" y="302" width="3.8" height="0.8" fill="#000" opacity="0.6"/>
<rect x="390" y="321" width="4" height="27" fill="#000"/>
<rect x="391" y="322" width="2" height="26" fill="#ffffff"/>
<rect x="394" y="339" width="1" height="2" fill="#000"/>
<rect x="393" y="339" width="3" height="1" fill="#000"/>
<rect x="392.6" y="340" width="3.8" height="0.8" fill="#000" opacity="0.6"/>
<rect x="393" y="341" width="4" height="7" fill="#000"/>
<rect x="394" y="342" width="2" height="6" fill="#bdbdbd"/>
<rect x="402" y="212" width="1" height="20" fill="#000"/>
<rect x="401" y="212" width="3" height="1" fill="#000"/>
<rect x="400.6" y="213" width="3.8" height="0.8" fill="#000" opacity="0.6"/>
<rect x="400" y="232" width="5" height="116" fill="#000"/>
<rect x="401" y="233" width="2" height="115" fill="#8a8a8a"/>
<rect x="404" y="343" width="3" height="5" fill="#000"/>
<rect x="405" y="344" width="1" height="4" fill="#2f2f2f"/>
<rect x="408" y="296" width="1" height="11" fill="#000"/>
<rect x="407" y="296" width="3" height="1" fill="#000"/>
<rect x="406.6" y="297" width="3.8" height="0.8" fill="#000" opacity="0.6"/>
<rect x="407" y="307" width="4" height="41" fill="#000"/>
<rect x="408" y="308" width="2" height="40" fill="#ffffff"/>
<rect x="410" y="343" width="4" height="5" fill="#000"/>
<rect x="411" y="344" width="2" height="4" fill="#bdbdbd"/>
<rect x="419" y="237" width="1" height="18" fill="#000"/>
<rect x="418" y="237" width="3" height="1" fill="#000"/>
<rect x="417.6" y="238" width="3.8" height="0.8" fill="#000" opacity="0.6"/>
<rect x="417" y="255" width="5" height="93" fill="#000"/>
<rect x="418" y="256" width="2" height="92" fill="#8a8a8a"/>
<rect x="421" y="346" width="3" height="2" fill="#000"/>
<rect x="422" y="347" width="1" height="1" fill="#2f2f2f"/>
<rect x="425" y="314" width="1" height="9" fill="#000"/>
<rect x="424" y="314" width="3" height="1" fill="#000"/>
<rect x="423.6" y="315" width="3.8" height="0.8" fill="#000" opacity="0.6"/>
<rect x="424" y="323" width="4" height="25" fill="#000"/>
<rect x="425" y="324" width="2" height="24" fill="#ffffff"/>
<rect x="427" y="346" width="4" height="2" fill="#000"/>
<rect x="428" y="347" width="2" height="1" fill="#bdbdbd"/>
<rect x="436" y="201" width="1" height="11" fill="#000"/>
<rect x="435" y="201" width="3" height="1" fill="#000"/>
<rect x="434.6" y="202" width="3.8" height="0.8" fill="#000" opacity="0.6"/>
<rect x="434" y="212" width="5" height="136" fill="#000"/>
<rect x="435" y="213" width="2" height="135" fill="#8a8a8a"/>
<rect x="438" y="346" width="3" height="2" fill="#000"/>
<rect x="439" y="347" width="1" height="1" fill="#2f2f2f"/>
<rect x="442" y="314" width="1" height="12" fill="#000"/>
<rect x="441" y="314" width="3" height="1" fill="#000"/>
<rect x="440.6" y="315" width="3.8" height="0.8" fill="#000" opacity="0.6"/>
<rect x="441" y="326" width="4" height="22" fill="#000"/>
<rect x="442" y="327" width="2" height="21" fill="#ffffff"/>
<rect x="444" y="347" width="4" height="1" fill="#000"/>
<rect x="454" y="243" width="1" height="10" fill="#000"/>
<rect x="453" y="243" width="3" height="1" fill="#000"/>
<rect x="452.6" y="244" width="3.8" height="0.8" fill="#000" opacity="0.6"/>
<rect x="452" y="253" width="5" height="95" fill="#000"/>
<rect x="453" y="254" width="2" height="94" fill="#8a8a8a"/>
<rect x="456" y="347" width="3" height="1" fill="#000"/>
<rect x="460" y="328" width="1" height="7" fill="#000"/>
<rect x="459" y="328" width="3" height="1" fill="#000"/>
<rect x="458.6" y="329" width="3.8" height="0.8" fill="#000" opacity="0.6"/>
<rect x="459" y="335" width="4" height="13" fill="#000"/>
<rect x="460" y="336" width="2" height="12" fill="#ffffff"/>
<rect x="462" y="347" width="4" height="1" fill="#000"/>
<rect x="471" y="304" width="1" height="8" fill="#000"/>
<rect x="470" y="304" width="3" height="1" fill="#000"/>
<rect x="469.6" y="305" width="3.8" height="0.8" fill="#000" opacity="0.6"/>
<rect x="469" y="312" width="5" height="36" fill="#000"/>
<rect x="470" y="313" width="2" height="35" fill="#8a8a8a"/>
<rect x="473" y="347" width="3" height="1" fill="#000"/>
<rect x="477" y="330" width="1" height="5" fill="#000"/>
<rect x="476" y="330" width="3" height="1" fill="#000"/>
<rect x="475.6" y="331" width="3.8" height="0.8" fill="#000" opacity="0.6"/>
<rect x="476" y="335" width="4" height="13" fill="#000"/>
<rect x="477" y="336" width="2" height="12" fill="#ffffff"/>
<rect x="479" y="347" width="4" height="1" fill="#000"/>
<rect x="488" y="324" width="1" height="2" fill="#000"/>
<rect x="487" y="324" width="3" height="1" fill="#000"/>
<rect x="486.6" y="325" width="3.8" height="0.8" fill="#000" opacity="0.6"/>
<rect x="486" y="326" width="5" height="22" fill="#000"/>
<rect x="487" y="327" width="2" height="21" fill="#8a8a8a"/>
<rect x="490" y="347" width="3" height="1" fill="#000"/>
<rect x="494" y="339" width="1" height="3" fill="#000"/>
<rect x="493" y="339" width="3" height="1" fill="#000"/>
<rect x="492.6" y="340" width="3.8" height="0.8" fill="#000" opacity="0.6"/>
<rect x="493" y="342" width="4" height="6" fill="#000"/>
<rect x="494" y="343" width="2" height="5" fill="#ffffff"/>
<rect x="496" y="347" width="4" height="1" fill="#000"/>
<rect x="506" y="339" width="1" height="4" fill="#000"/>
<rect x="505" y="339" width="3" height="1" fill="#000"/>
<rect x="504.6" y="340" width="3.8" height="0.8" fill="#000" opacity="0.6"/>
<rect x="504" y="343" width="5" height="5" fill="#000"/>
<rect x="505" y="344" width="2" height="4" fill="#8a8a8a"/>
<rect x="508" y="347" width="3" height="1" fill="#000"/>
<rect x="512" y="338" width="1" height="4" fill="#000"/>
<rect x="511" y="338" width="3" height="1" fill="#000"/>
<rect x="510.6" y="339" width="3.8" height="0.8" fill="#000" opacity="0.6"/>
<rect x="511" y="342" width="4" height="6" fill="#000"/>
<rect x="512" y="343" width="2" height="5" fill="#ffffff"/>
<rect x="514" y="347" width="4" height="1" fill="#000"/>
<rect x="312.30" y="169.40" width="206.00" height="178.90" fill="none" stroke="#000" stroke-width="1.6" />
<text x="322.60" y="358.90" font-size="9.8" font-weight="bold" fill="#000" text-anchor="middle" textLength="4.3" lengthAdjust="spacingAndGlyphs" >1</text>
<text x="339.90" y="358.90" font-size="9.8" font-weight="bold" fill="#000" text-anchor="middle" textLength="4.3" lengthAdjust="spacingAndGlyphs" >2</text>
<text x="357.20" y="358.90" font-size="9.8" font-weight="bold" fill="#000" text-anchor="middle" textLength="4.3" lengthAdjust="spacingAndGlyphs" >3</text>
<text x="374.50" y="358.90" font-size="9.8" font-weight="bold" fill="#000" text-anchor="middle" textLength="4.3" lengthAdjust="spacingAndGlyphs" >4</text>
<text x="391.80" y="358.90" font-size="9.8" font-weight="bold" fill="#000" text-anchor="middle" textLength="4.3" lengthAdjust="spacingAndGlyphs" >5</text>
<text x="409.10" y="358.90" font-size="9.8" font-weight="bold" fill="#000" text-anchor="middle" textLength="4.3" lengthAdjust="spacingAndGlyphs" >6</text>
<text x="426.40" y="358.90" font-size="9.8" font-weight="bold" fill="#000" text-anchor="middle" textLength="4.3" lengthAdjust="spacingAndGlyphs" >7</text>
<text x="443.70" y="358.90" font-size="9.8" font-weight="bold" fill="#000" text-anchor="middle" textLength="4.3" lengthAdjust="spacingAndGlyphs" >8</text>
<text x="461.00" y="358.90" font-size="9.8" font-weight="bold" fill="#000" text-anchor="middle" textLength="4.3" lengthAdjust="spacingAndGlyphs" >9</text>
<text x="478.30" y="358.90" font-size="9.8" font-weight="bold" fill="#000" text-anchor="middle" textLength="8.6" lengthAdjust="spacingAndGlyphs" >10</text>
<text x="495.60" y="358.90" font-size="9.8" font-weight="bold" fill="#000" text-anchor="middle" textLength="8.6" lengthAdjust="spacingAndGlyphs" >11</text>
<text x="512.90" y="358.90" font-size="9.8" font-weight="bold" fill="#000" text-anchor="middle" textLength="8.6" lengthAdjust="spacingAndGlyphs" >12</text>
<text x="385.00" y="372.80" font-size="10.4" font-weight="bold" fill="#000" textLength="38.0" lengthAdjust="spacingAndGlyphs" >fraction</text>
<rect x="455.30" y="176.10" width="5.90" height="6.20" fill="#8a8a8a" stroke="#000" stroke-width="1.2" />
<text x="463.60" y="182.10" font-size="9.9" font-weight="bold" fill="#000" textLength="25.4" lengthAdjust="spacingAndGlyphs" >EtOH</text>
<rect x="455.30" y="188.10" width="5.90" height="6.20" fill="#2f2f2f" stroke="#000" stroke-width="1.2" />
<text x="463.60" y="193.90" font-size="9.9" font-weight="bold" fill="#000" textLength="22.0" lengthAdjust="spacingAndGlyphs" >RXR</text>
<rect x="455.30" y="199.90" width="5.90" height="6.20" fill="#ffffff" stroke="#000" stroke-width="1.2" />
<text x="463.60" y="205.20" font-size="9.9" font-weight="bold" fill="#000" textLength="23.0" lengthAdjust="spacingAndGlyphs" >rapa</text>
<rect x="455.30" y="211.20" width="5.90" height="6.20" fill="#bdbdbd" stroke="#000" stroke-width="1.2" />
<text x="463.60" y="216.60" font-size="9.9" font-weight="bold" fill="#000" textLength="49.6" lengthAdjust="spacingAndGlyphs" >RXR+rapa</text>
<text x="279.20" y="254.00" font-size="10.3" font-weight="bold" fill="#000" text-anchor="middle" textLength="102" lengthAdjust="spacingAndGlyphs" transform="rotate(-90 279.20 254.00)" >relative c-Myc mRNA</text>
<text x="291.80" y="254.00" font-size="10.3" font-weight="bold" fill="#000" text-anchor="middle" textLength="54.5" lengthAdjust="spacingAndGlyphs" transform="rotate(-90 291.80 254.00)" >abundance</text>
<text x="14.60" y="402.60" font-size="17.6" font-weight="bold" fill="#000" textLength="12.5" lengthAdjust="spacingAndGlyphs" >D</text>
<text x="140.00" y="402.60" font-size="10.3" font-weight="bold" fill="#000" textLength="29.5" lengthAdjust="spacingAndGlyphs" font-style="italic" >c-Myc</text>
<text x="49.40" y="410.10" font-size="10.2" font-weight="bold" fill="#000" text-anchor="middle" textLength="8.6" lengthAdjust="spacingAndGlyphs" >30</text>
<text x="49.40" y="439.57" font-size="10.2" font-weight="bold" fill="#000" text-anchor="middle" textLength="8.6" lengthAdjust="spacingAndGlyphs" >25</text>
<text x="49.40" y="469.03" font-size="10.2" font-weight="bold" fill="#000" text-anchor="middle" textLength="8.6" lengthAdjust="spacingAndGlyphs" >20</text>
<text x="49.40" y="498.50" font-size="10.2" font-weight="bold" fill="#000" text-anchor="middle" textLength="8.6" lengthAdjust="spacingAndGlyphs" >15</text>
<text x="49.40" y="527.97" font-size="10.2" font-weight="bold" fill="#000" text-anchor="middle" textLength="8.6" lengthAdjust="spacingAndGlyphs" >10</text>
<text x="49.40" y="557.43" font-size="10.2" font-weight="bold" fill="#000" text-anchor="middle" textLength="4.3" lengthAdjust="spacingAndGlyphs" >5</text>
<text x="49.40" y="586.90" font-size="10.2" font-weight="bold" fill="#000" text-anchor="middle" textLength="4.3" lengthAdjust="spacingAndGlyphs" >0</text>
<rect x="56.50" y="408.10" width="192.80" height="177.30" fill="none" stroke="#000" stroke-width="1.6" />
<polyline points="57.00,573.69 74.45,534.80 91.90,512.99 109.35,432.84 126.80,501.20 144.25,477.63 161.70,553.07 179.15,554.24 196.60,575.46 214.05,580.76 231.50,576.93 248.95,581.94" fill="none" stroke="#000" stroke-width="1.45" stroke-dasharray="3,2.2"/>
<polyline points="57.00,581.35 74.45,564.26 91.90,556.01 109.35,488.24 126.80,505.92 144.25,468.20 161.70,515.35 179.15,523.01 196.60,546.58 214.05,548.35 231.50,564.85 248.95,565.44" fill="none" stroke="#000" stroke-width="1.45" stroke-dasharray="6.5,2.5"/>
<polyline points="57.00,582.53 74.45,546.58 91.90,502.38 109.35,488.83 126.80,502.97 144.25,488.24 161.70,537.74 179.15,523.01 196.60,553.65 214.05,572.51 231.50,561.32 248.95,568.98" fill="none" stroke="#000" stroke-width="1.45"/>
<polyline points="57.00,583.71 74.45,566.03 91.90,576.05 109.35,569.86 126.80,507.10 144.25,484.11 161.70,504.15 179.15,468.20 196.60,502.97 214.05,553.07 231.50,567.21 248.95,581.35" fill="none" stroke="#000" stroke-width="1.45"/>
<path d="M57.00,570.39 L60.00,573.69 L57.00,576.99 L54.00,573.69 Z" fill="#fff" stroke="#000" stroke-width="1"/>
<path d="M74.45,531.50 L77.45,534.80 L74.45,538.10 L71.45,534.80 Z" fill="#fff" stroke="#000" stroke-width="1"/>
<path d="M91.90,509.69 L94.90,512.99 L91.90,516.29 L88.90,512.99 Z" fill="#fff" stroke="#000" stroke-width="1"/>
<path d="M109.35,429.54 L112.35,432.84 L109.35,436.14 L106.35,432.84 Z" fill="#fff" stroke="#000" stroke-width="1"/>
<path d="M126.80,497.90 L129.80,501.20 L126.80,504.50 L123.80,501.20 Z" fill="#fff" stroke="#000" stroke-width="1"/>
<path d="M144.25,474.33 L147.25,477.63 L144.25,480.93 L141.25,477.63 Z" fill="#fff" stroke="#000" stroke-width="1"/>
<path d="M161.70,549.77 L164.70,553.07 L161.70,556.37 L158.70,553.07 Z" fill="#fff" stroke="#000" stroke-width="1"/>
<path d="M179.15,550.94 L182.15,554.24 L179.15,557.54 L176.15,554.24 Z" fill="#fff" stroke="#000" stroke-width="1"/>
<path d="M196.60,572.16 L199.60,575.46 L196.60,578.76 L193.60,575.46 Z" fill="#fff" stroke="#000" stroke-width="1"/>
<path d="M214.05,577.46 L217.05,580.76 L214.05,584.06 L211.05,580.76 Z" fill="#fff" stroke="#000" stroke-width="1"/>
<path d="M231.50,573.63 L234.50,576.93 L231.50,580.23 L228.50,576.93 Z" fill="#fff" stroke="#000" stroke-width="1"/>
<path d="M248.95,578.64 L251.95,581.94 L248.95,585.24 L245.95,581.94 Z" fill="#fff" stroke="#000" stroke-width="1"/>
<rect x="54.00" y="580.61" width="6.00" height="6.20" fill="#fff" stroke="#000" stroke-width="1.2" />
<rect x="71.45" y="562.93" width="6.00" height="6.20" fill="#fff" stroke="#000" stroke-width="1.2" />
<rect x="88.90" y="572.95" width="6.00" height="6.20" fill="#fff" stroke="#000" stroke-width="1.2" />
<rect x="106.35" y="566.76" width="6.00" height="6.20" fill="#fff" stroke="#000" stroke-width="1.2" />
<rect x="123.80" y="504.00" width="6.00" height="6.20" fill="#fff" stroke="#000" stroke-width="1.2" />
<rect x="141.25" y="481.01" width="6.00" height="6.20" fill="#fff" stroke="#000" stroke-width="1.2" />
<rect x="158.70" y="501.05" width="6.00" height="6.20" fill="#fff" stroke="#000" stroke-width="1.2" />
<rect x="176.15" y="465.10" width="6.00" height="6.20" fill="#fff" stroke="#000" stroke-width="1.2" />
<rect x="193.60" y="499.87" width="6.00" height="6.20" fill="#fff" stroke="#000" stroke-width="1.2" />
<rect x="211.05" y="549.97" width="6.00" height="6.20" fill="#fff" stroke="#000" stroke-width="1.2" />
<rect x="228.50" y="564.11" width="6.00" height="6.20" fill="#fff" stroke="#000" stroke-width="1.2" />
<rect x="245.95" y="578.25" width="6.00" height="6.20" fill="#fff" stroke="#000" stroke-width="1.2" />
<circle cx="57.00" cy="582.53" r="2.5" fill="#000"/>
<circle cx="74.45" cy="546.58" r="2.5" fill="#000"/>
<circle cx="91.90" cy="502.38" r="2.5" fill="#000"/>
<circle cx="109.35" cy="488.83" r="2.5" fill="#000"/>
<circle cx="126.80" cy="502.97" r="2.5" fill="#000"/>
<circle cx="144.25" cy="488.24" r="2.5" fill="#000"/>
<circle cx="161.70" cy="537.74" r="2.5" fill="#000"/>
<circle cx="179.15" cy="523.01" r="2.5" fill="#000"/>
<circle cx="196.60" cy="553.65" r="2.5" fill="#000"/>
<circle cx="214.05" cy="572.51" r="2.5" fill="#000"/>
<circle cx="231.50" cy="561.32" r="2.5" fill="#000"/>
<circle cx="248.95" cy="568.98" r="2.5" fill="#000"/>
<path d="M57.00,577.35 L60.30,583.95 L53.70,583.95 Z" fill="#8a8a8a" stroke="#000" stroke-width="1"/>
<path d="M74.45,560.26 L77.75,566.86 L71.15,566.86 Z" fill="#8a8a8a" stroke="#000" stroke-width="1"/>
<path d="M91.90,552.01 L95.20,558.61 L88.60,558.61 Z" fill="#8a8a8a" stroke="#000" stroke-width="1"/>
<path d="M109.35,484.24 L112.65,490.84 L106.05,490.84 Z" fill="#8a8a8a" stroke="#000" stroke-width="1"/>
<path d="M126.80,501.92 L130.10,508.52 L123.50,508.52 Z" fill="#8a8a8a" stroke="#000" stroke-width="1"/>
<path d="M144.25,464.20 L147.55,470.80 L140.95,470.80 Z" fill="#8a8a8a" stroke="#000" stroke-width="1"/>
<path d="M161.70,511.35 L165.00,517.95 L158.40,517.95 Z" fill="#8a8a8a" stroke="#000" stroke-width="1"/>
<path d="M179.15,519.01 L182.45,525.61 L175.85,525.61 Z" fill="#8a8a8a" stroke="#000" stroke-width="1"/>
<path d="M196.60,542.58 L199.90,549.18 L193.30,549.18 Z" fill="#8a8a8a" stroke="#000" stroke-width="1"/>
<path d="M214.05,544.35 L217.35,550.95 L210.75,550.95 Z" fill="#8a8a8a" stroke="#000" stroke-width="1"/>
<path d="M231.50,560.85 L234.80,567.45 L228.20,567.45 Z" fill="#8a8a8a" stroke="#000" stroke-width="1"/>
<path d="M248.95,561.44 L252.25,568.04 L245.65,568.04 Z" fill="#8a8a8a" stroke="#000" stroke-width="1"/>
<line x1="161.70" y1="414.90" x2="193.50" y2="414.90" stroke="#000" stroke-width="1.3" />
<rect x="175.10" y="411.80" width="6.00" height="6.20" fill="#fff" stroke="#000" stroke-width="1.2" />
<text x="196.00" y="418.70" font-size="10.6" font-weight="bold" fill="#000" textLength="26.2" lengthAdjust="spacingAndGlyphs" >EtOH</text>
<line x1="161.70" y1="425.40" x2="193.50" y2="425.40" stroke="#000" stroke-width="1.3" />
<circle cx="178.10" cy="425.40" r="2.5" fill="#000"/>
<text x="196.00" y="429.20" font-size="10.6" font-weight="bold" fill="#000" textLength="22.5" lengthAdjust="spacingAndGlyphs" >RXR</text>
<line x1="161.70" y1="436.60" x2="193.50" y2="436.60" stroke="#000" stroke-width="1.3" />
<path d="M178.10,432.60 L181.40,439.20 L174.80,439.20 Z" fill="#8a8a8a" stroke="#000" stroke-width="1"/>
<text x="196.00" y="440.40" font-size="10.6" font-weight="bold" fill="#000" textLength="23.5" lengthAdjust="spacingAndGlyphs" >rapa</text>
<line x1="161.70" y1="447.80" x2="165.00" y2="447.80" stroke="#000" stroke-width="1.3" />
<line x1="171.30" y1="447.80" x2="175.20" y2="447.80" stroke="#000" stroke-width="1.3" />
<line x1="181.00" y1="447.80" x2="184.80" y2="447.80" stroke="#000" stroke-width="1.3" />
<line x1="192.50" y1="447.80" x2="194.80" y2="447.80" stroke="#000" stroke-width="1.3" />
<path d="M178.10,444.50 L181.10,447.80 L178.10,451.10 L175.10,447.80 Z" fill="#fff" stroke="#000" stroke-width="1"/>
<text x="196.00" y="451.60" font-size="10.6" font-weight="bold" fill="#000" textLength="48.6" lengthAdjust="spacingAndGlyphs" >RXR+rapa</text>
<text x="57.80" y="599.60" font-size="9.8" font-weight="bold" fill="#000" text-anchor="middle" textLength="4.3" lengthAdjust="spacingAndGlyphs" >1</text>
<text x="75.00" y="599.60" font-size="9.8" font-weight="bold" fill="#000" text-anchor="middle" textLength="4.3" lengthAdjust="spacingAndGlyphs" >2</text>
<text x="92.50" y="599.60" font-size="9.8" font-weight="bold" fill="#000" text-anchor="middle" textLength="4.3" lengthAdjust="spacingAndGlyphs" >3</text>
<text x="110.30" y="599.60" font-size="9.8" font-weight="bold" fill="#000" text-anchor="middle" textLength="4.3" lengthAdjust="spacingAndGlyphs" >4</text>
<text x="128.00" y="599.60" font-size="9.8" font-weight="bold" fill="#000" text-anchor="middle" textLength="4.3" lengthAdjust="spacingAndGlyphs" >5</text>
<text x="145.00" y="599.60" font-size="9.8" font-weight="bold" fill="#000" text-anchor="middle" textLength="4.3" lengthAdjust="spacingAndGlyphs" >6</text>
<text x="162.20" y="599.60" font-size="9.8" font-weight="bold" fill="#000" text-anchor="middle" textLength="4.3" lengthAdjust="spacingAndGlyphs" >7</text>
<text x="179.80" y="599.60" font-size="9.8" font-weight="bold" fill="#000" text-anchor="middle" textLength="4.3" lengthAdjust="spacingAndGlyphs" >8</text>
<text x="198.00" y="599.60" font-size="9.8" font-weight="bold" fill="#000" text-anchor="middle" textLength="4.3" lengthAdjust="spacingAndGlyphs" >9</text>
<text x="217.50" y="599.60" font-size="9.8" font-weight="bold" fill="#000" text-anchor="middle" textLength="8.6" lengthAdjust="spacingAndGlyphs" >10</text>
<text x="234.40" y="599.60" font-size="9.8" font-weight="bold" fill="#000" text-anchor="middle" textLength="8.6" lengthAdjust="spacingAndGlyphs" >11</text>
<text x="252.60" y="599.60" font-size="9.8" font-weight="bold" fill="#000" text-anchor="middle" textLength="8.6" lengthAdjust="spacingAndGlyphs" >12</text>
<text x="37.00" y="492.50" font-size="10.4" font-weight="bold" fill="#000" text-anchor="middle" textLength="101" lengthAdjust="spacingAndGlyphs" transform="rotate(-90 37.00 492.50)" >% total c-Myc mRNA</text>
<text x="128.00" y="610.50" font-size="10.4" font-weight="bold" fill="#000" textLength="37.0" lengthAdjust="spacingAndGlyphs" >fraction</text>
</svg>
</body></html>
